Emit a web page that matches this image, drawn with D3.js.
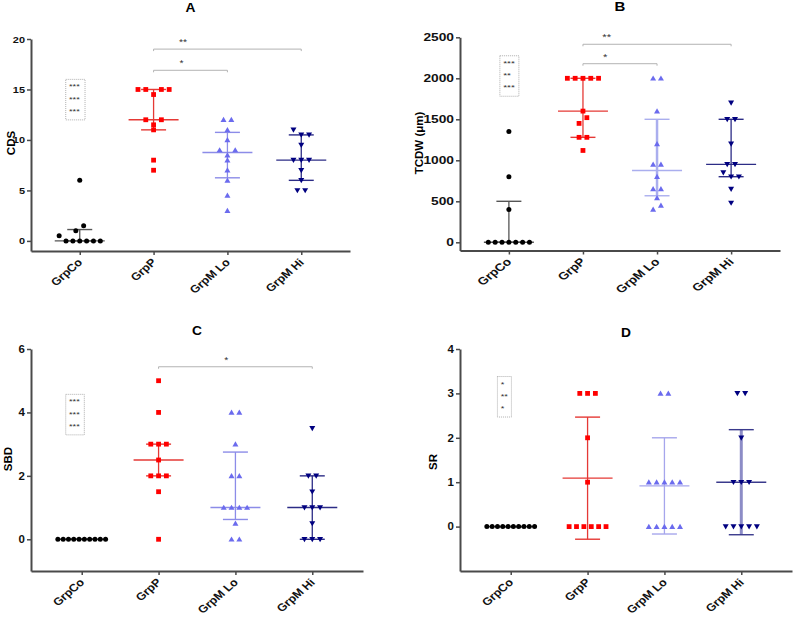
<!DOCTYPE html>
<html><head><meta charset="utf-8">
<script src="https://cdn.jsdelivr.net/npm/d3@7"></script>
<style>body{margin:0;background:#fff} svg{display:block} text{font-family:"Liberation Sans",Arial,sans-serif}</style>
</head><body>
<svg id="chart" width="793" height="618"></svg>
<script>
// ---------------- DATA ----------------
const categories = ["GrpCo", "GrpP", "GrpM Lo", "GrpM Hi"];

const cdsValues = [
  [6, 1.5, 1, 0.5, 0, 0, 0, 0, 0, 0],
  [15, 15, 15, 15, 14.5, 12, 12, 11.5, 11, 8, 7],
  [12, 12, 11, 10, 9, 9, 8.5, 8, 7, 6, 4.5, 3],
  [11, 10.5, 10.5, 9.5, 8, 8, 8, 7, 6, 5, 5]
];
const tcdwValues = [
  [1350, 800, 400, 0, 0, 0, 0, 0, 0, 0],
  [2000, 2000, 2000, 2000, 2000, 1600, 1520, 1450, 1280, 1280, 1120],
  [2000, 2000, 1600, 1200, 950, 950, 800, 650, 650, 540, 450, 400],
  [1700, 1500, 1500, 1200, 950, 950, 850, 800, 800, 650, 480]
];
const sbdValues = [
  [0, 0, 0, 0, 0, 0, 0, 0, 0, 0],
  [5, 4, 3, 3, 3, 2.5, 2, 2, 2, 1.5, 0],
  [4, 4, 3, 2, 2, 1, 1, 1, 1, 0.5, 0, 0],
  [3.5, 2, 2, 1.5, 1, 1, 1, 0.5, 0, 0, 0]
];
const srValues = [
  [0, 0, 0, 0, 0, 0, 0, 0, 0, 0],
  [3, 3, 3, 2, 1, 0, 0, 0, 0, 0, 0],
  [3, 3, 1, 1, 1, 1, 1, 0, 0, 0, 0, 0],
  [3, 3, 2, 1, 1, 1, 0, 0, 0, 0, 0]
];

const cdsTicks = [0, 5, 10, 15, 20];
const tcdwTicks = [0, 500, 1000, 1500, 2000, 2500];
const sbdTicks = [0, 2, 4, 6];
const srTicks = [0, 1, 2, 3, 4];

const cdsBrackets = [
  {from: "GrpP", to: "GrpM Hi", level: 19, label: "**"},
  {from: "GrpP", to: "GrpM Lo", level: 16.9, label: "*"}
];
const tcdwBrackets = [
  {from: "GrpP", to: "GrpM Hi", level: 2415, label: "**"},
  {from: "GrpP", to: "GrpM Lo", level: 2178, label: "*"}
];
const sbdBrackets = [
  {from: "GrpP", to: "GrpM Hi", level: 5.44, label: "*"}
];
const srBrackets = [];

const cdsVsControl = ["***", "***", "***"];
const tcdwVsControl = ["***", "**", "***"];
const sbdVsControl = ["***", "***", "***"];
const srVsControl = ["*", "**", "*"];

// ---------------- LAYOUT / STYLE ----------------
const markerTypes = ["circle", "square", "triUp", "triDown"];
const markerColors = ["#000000", "#ff0000", "#6b6bee", "#000080"];
const lineColors = ["#555555", "#e53935", "#8c8ce8", "#2c2c86"];

const panels = [
  {title: "A", ylabel: "CDS", values: cdsValues, ticks: cdsTicks, brackets: cdsBrackets, stars: cdsVsControl, stat: "median",
   x0: 31, x1: 350, yTop: 39, yBot: 251, domain: [-1, 20], titleY: 11.5, ylx: 14.5, yly: 143, sx: 1.15, tickFont: 9.5,
   bracketFrac: [0.2, 0.38], box: {top: 16, left: -14, w: 19.3}},
  {title: "B", ylabel: "TCDW (\u03bcm)", values: tcdwValues, ticks: tcdwTicks, brackets: tcdwBrackets, stars: tcdwVsControl, stat: "median",
   x0: 460, x1: 780, yTop: 37.3, yBot: 250.5, domain: [-100, 2500], titleY: 10.5, ylx: 423, yly: 143, sx: 1.25, tickFont: 11,
   bracketFrac: [0.16, 0.3], box: {top: 2275, left: -9, w: 19}, lineOverride: {2: {color: "#aaaeee", vw: 2.5}}},
  {title: "C", ylabel: "SBD", values: sbdValues, ticks: sbdTicks, brackets: sbdBrackets, stars: sbdVsControl, stat: "median",
   x0: 31, x1: 363, yTop: 349, yBot: 571, domain: [-1, 6], titleY: 335, ylx: 11.5, yly: 459, sx: 1.15, tickFont: 10,
   bracketFrac: [0.44], box: {top: 4.57, left: -16, w: 18.6}},
  {title: "D", ylabel: "SR", values: srValues, ticks: srTicks, brackets: srBrackets, stars: srVsControl, stat: "mean",
   x0: 460, x1: 792, yTop: 349, yBot: 571, domain: [-1, 4], titleY: 337.3, ylx: 437, yly: 462, sx: 1.15, tickFont: 10,
   bracketFrac: [], box: {top: 3.38, left: -13.3, w: 14}, lineOverride: {2: {color: "#a6a6ec"}, 3: {color: "#3a3a8c", vColor: "#8c8cc6", vw: 3}}}
];

// Prism-style quantile ((n+1) method)
function pq(sorted, p) {
  const n = sorted.length, h = (n + 1) * p, lo = Math.floor(h);
  if (lo < 1) return sorted[0];
  if (lo >= n) return sorted[n - 1];
  return sorted[lo - 1] + (h - lo) * (sorted[lo] - sorted[lo - 1]);
}
function stats(vals, kind) {
  const s = vals.slice().sort((a, b) => a - b);
  if (kind === "mean") {
    const m = d3.mean(s), sd = d3.deviation(s) || 0;
    return {c: m, lo: m - sd, hi: m + sd};
  }
  return {c: pq(s, 0.5), lo: pq(s, 0.25), hi: pq(s, 0.75)};
}

// scatter-dot arrangement: cluster near values into rows, centred
function dodge(vals, y) {
  const idx = vals.map((v, i) => i).sort((a, b) => vals[b] - vals[a]);
  const off = new Array(vals.length).fill(0);
  let i = 0;
  while (i < idx.length) {
    const first = y(vals[idx[i]]);
    const cl = [idx[i]];
    let j = i + 1;
    while (j < idx.length && Math.abs(y(vals[idx[j]]) - first) < 6) { cl.push(idx[j]); j++; }
    const n = cl.length;
    const s = Math.min(7.8, 7.9 - 0.52 * (n - 5));
    const slots = [];
    if (n % 2) { slots.push(0); for (let k = 1; slots.length < n; k++) { slots.push(k); slots.push(-k); } }
    else { for (let k = 0.5; slots.length < n; k++) { slots.push(-k); slots.push(k); } }
    cl.sort((a, b) => vals[a] - vals[b]);
    cl.forEach((id, k) => off[id] = slots[k] * s);
    i = j;
  }
  return off;
}

const svg = d3.select("#chart");
const axisColor = "#4a4a4a";

panels.forEach(P => {
  const g = svg.append("g");
  const x = d3.scalePoint().domain(categories).range([P.x0, P.x1]).padding(0.66);
  const y = d3.scaleLinear().domain(P.domain).range([P.yBot, P.yTop]);

  // y axis
  const ya = g.append("g").attr("transform", `translate(${P.x0},0)`)
    .call(d3.axisLeft(y).tickValues(P.ticks).tickSize(4).tickSizeOuter(0).tickPadding(2).tickFormat(d3.format("d")));
  ya.select(".domain").attr("stroke", axisColor).attr("stroke-width", 2);
  ya.selectAll(".tick line").attr("stroke", axisColor).attr("stroke-width", 1.5);
  ya.selectAll(".tick text").attr("x", null).attr("transform", `translate(-6,0) scale(${P.sx},1)`)
    .attr("font-size", P.tickFont).attr("font-weight", "bold").attr("fill", "#111")
    .attr("font-family", '"Liberation Sans",Arial,sans-serif');

  // x axis
  const xa = g.append("g").attr("transform", `translate(0,${P.yBot})`)
    .call(d3.axisBottom(x).tickSize(4).tickSizeOuter(0));
  xa.select(".domain").attr("stroke", axisColor).attr("stroke-width", 2);
  xa.selectAll(".tick line").attr("stroke", axisColor).attr("stroke-width", 1.5);
  xa.selectAll(".tick text").attr("y", null).attr("dy", null)
    .attr("transform", `translate(3,12) scale(${P.sx},1) rotate(-45)`)
    .attr("text-anchor", "end").attr("font-size", 10.8).attr("font-weight", "bold").attr("fill", "#111")
    .attr("font-family", '"Liberation Sans",Arial,sans-serif');

  // title
  g.append("text").attr("transform", `translate(${(P.x0 + P.x1) / 2},${P.titleY}) scale(${P.sx},1)`)
    .attr("text-anchor", "middle").attr("font-size", 12).attr("font-weight", "bold").text(P.title);
  // y label
  g.append("text").attr("transform", `translate(${P.ylx},${P.yly}) rotate(-90)`)
    .attr("text-anchor", "middle").attr("font-size", 11.5).attr("font-weight", "bold").text(P.ylabel);

  // error lines
  categories.forEach((c, ci) => {
    const st = stats(P.values[ci], P.stat);
    const ov = (P.lineOverride && P.lineOverride[ci]) || {};
    const col = ov.color || lineColors[ci];
    const vcol = ov.vColor || col;
    const cx = x(c);
    g.append("line").attr("x1", cx).attr("x2", cx).attr("y1", y(st.lo)).attr("y2", y(st.hi))
      .attr("stroke", vcol).attr("stroke-width", ov.vw || 1.3);
    g.append("line").attr("x1", cx - 25).attr("x2", cx + 25).attr("y1", y(st.c)).attr("y2", y(st.c))
      .attr("stroke", col).attr("stroke-width", 1.4);
    [st.lo, st.hi].forEach(v => {
      g.append("line").attr("x1", cx - 12.5).attr("x2", cx + 12.5).attr("y1", y(v)).attr("y2", y(v))
        .attr("stroke", col).attr("stroke-width", 1.4);
    });
  });

  // points
  categories.forEach((c, ci) => {
    const vals = P.values[ci];
    const off = dodge(vals, y);
    const col = markerColors[ci];
    vals.forEach((v, k) => {
      const px = x(c) + off[k], py = y(v);
      const t = markerTypes[ci];
      if (t === "circle") g.append("circle").attr("cx", px).attr("cy", py).attr("r", 2.5).attr("fill", col);
      else if (t === "square") g.append("rect").attr("x", px - 2.4).attr("y", py - 2.4).attr("width", 4.8).attr("height", 4.8).attr("fill", col);
      else if (t === "triUp") g.append("path").attr("d", `M${px},${py - 2.9}L${px + 3},${py + 2.3}L${px - 3},${py + 2.3}Z`).attr("fill", col);
      else g.append("path").attr("d", `M${px - 3},${py - 2.3}L${px + 3},${py - 2.3}L${px},${py + 2.9}Z`).attr("fill", col);
    });
  });

  // significance brackets
  P.brackets.forEach((b, bi) => {
    const xa0 = x(b.from), xb = x(b.to), yy = y(b.level);
    g.append("path").attr("d", `M${xa0},${yy + 2}V${yy}H${xb}V${yy + 2}`)
      .attr("fill", "none").attr("stroke", "#b3b3b3").attr("stroke-width", 1);
    const lx = xa0 + (P.bracketFrac[bi] || 0.5) * (xb - xa0);
    g.append("text").attr("transform", `translate(${lx},${yy - 4}) scale(${P.sx},1)`)
      .attr("text-anchor", "middle").attr("font-size", 9).attr("fill", "#333").text(b.label);
  });

  // dotted box of comparisons vs control
  const bx = x(categories[0]) + P.box.left, by = y(P.box.top);
  g.append("rect").attr("x", bx).attr("y", by).attr("width", P.box.w).attr("height", 40.5)
    .attr("fill", "none").attr("stroke", "#9a9a9a").attr("stroke-width", 0.8).attr("stroke-dasharray", "1,1");
  P.stars.forEach((s, k) => {
    g.append("text").attr("transform", `translate(${bx + 3.3},${by + 5.5 + k * 12.2 + 4.6}) scale(${P.sx},1)`)
      .attr("font-size", 8).attr("fill", "#333").text(s);
  });
});
</script>
</body></html>
